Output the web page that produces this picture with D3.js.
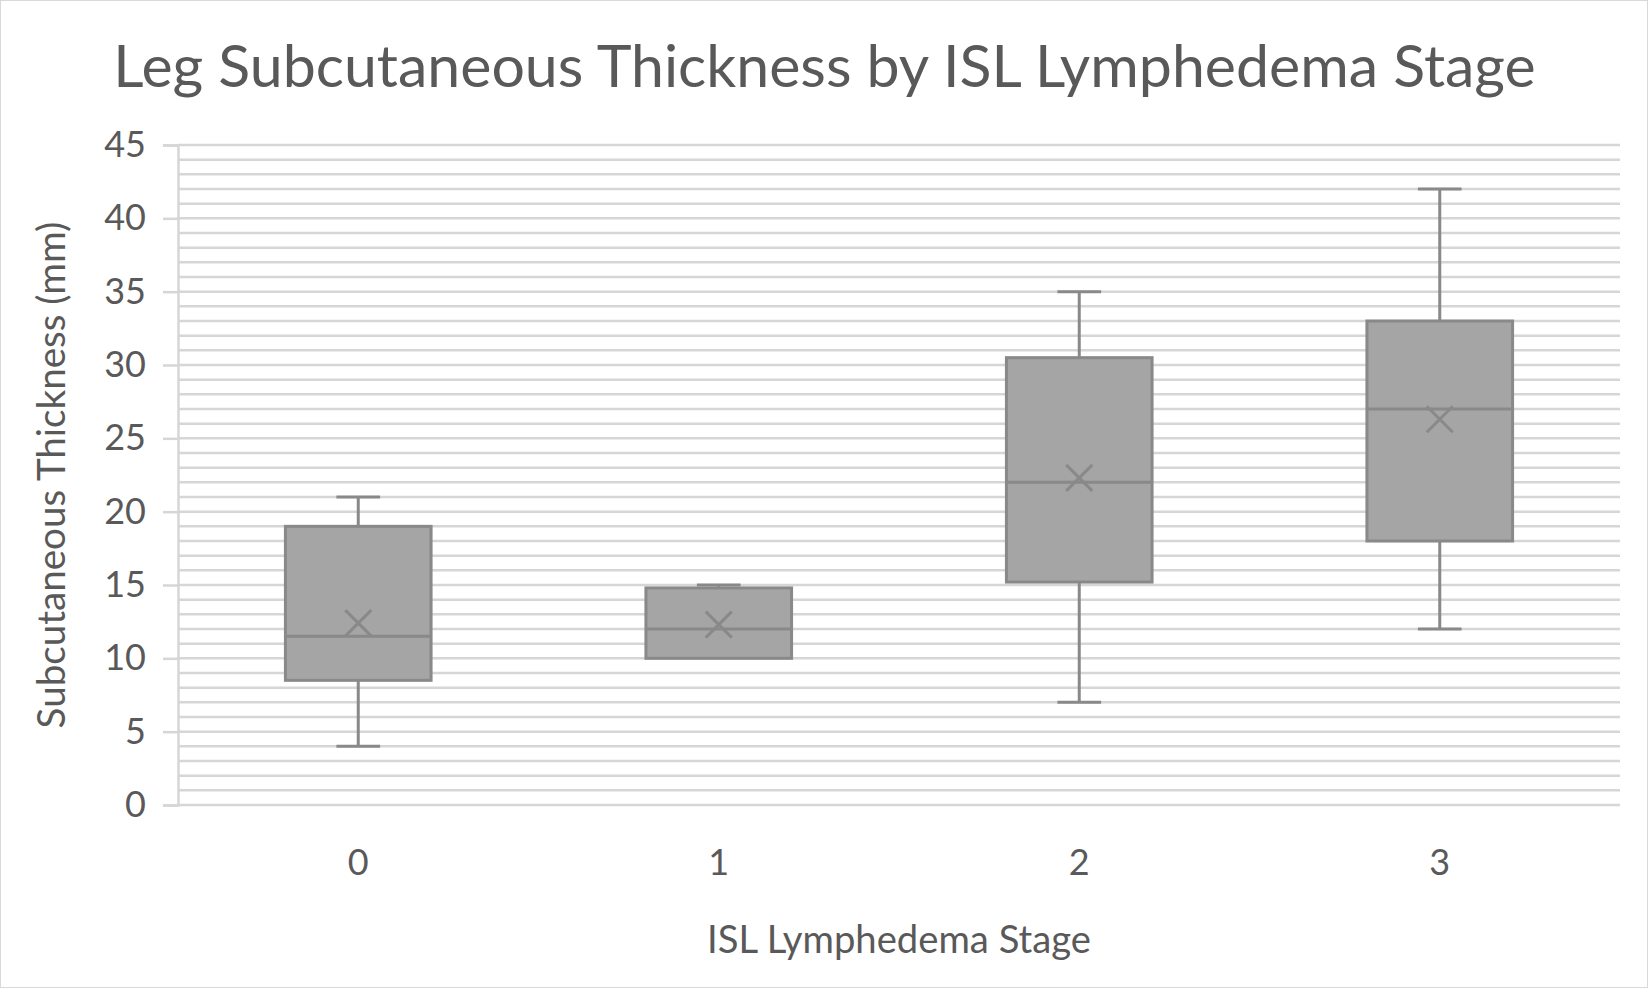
<!DOCTYPE html>
<html>
<head>
<meta charset="utf-8">
<script src="https://cdn.jsdelivr.net/npm/d3@7"></script>
<style>
  body { margin: 0; background: #fff; }
  text { font-family: Lato, "Open Sans", sans-serif; fill: #595959; }
</style>
</head>
<body>
<div id="chart"></div>
<script>
// box plot values
var stages = ["0", "1", "2", "3"];
var whiskerLow = [4, 10, 7, 12];
var q1 = [8.5, 10, 15.2, 18];
var median = [11.5, 12, 22, 27];
var q3 = [19, 14.8, 30.5, 33];
var whiskerHigh = [21, 15, 35, 42];
var means = [12.4, 12.3, 22.3, 26.3];
var yTicks = [0, 5, 10, 15, 20, 25, 30, 35, 40, 45];

var W = 1650, H = 990;
var margin = {top: 145, right: 30, bottom: 185, left: 178};

var boxes = stages.map(function (s, i) {
  return {stage: s, lo: whiskerLow[i], q1: q1[i], med: median[i], q3: q3[i], hi: whiskerHigh[i], mean: means[i]};
});

var svg = d3.select("#chart").append("svg")
  .attr("width", W).attr("height", H);

svg.append("rect")
  .attr("x", 0.5).attr("y", 0.5)
  .attr("width", W - 3).attr("height", H - 3)
  .attr("fill", "#fff").attr("stroke", "#d9d9d9");

var x = d3.scaleBand().domain(stages).range([margin.left, W - margin.right]).padding(0);
var y = d3.scaleLinear().domain([0, 45]).range([H - margin.bottom, margin.top]);

// minor + major gridlines every 1 mm
svg.append("g").selectAll("line")
  .data(d3.range(0, 46))
  .enter().append("line")
  .attr("x1", margin.left).attr("x2", W - margin.right)
  .attr("y1", d => y(d)).attr("y2", d => y(d))
  .attr("stroke", "#d6d6d6").attr("stroke-width", 2.5);

// y axis
var yAxisG = svg.append("g")
  .attr("transform", "translate(" + margin.left + ",0)")
  .call(d3.axisLeft(y).tickValues(yTicks).tickSize(15).tickPadding(17));
yAxisG.select(".domain").attr("stroke", "#d6d6d6").attr("stroke-width", 2.5);
yAxisG.selectAll(".tick line").attr("stroke", "#d6d6d6").attr("stroke-width", 2.5);
yAxisG.selectAll(".tick text")
  .style("font-size", "36px").style("font-family", "Lato").attr("fill", "#595959");

// x axis labels
var xAxisG = svg.append("g")
  .attr("transform", "translate(0," + y(0) + ")")
  .call(d3.axisBottom(x).tickSize(0).tickPadding(44));
xAxisG.select(".domain").remove();
xAxisG.selectAll(".tick text")
  .style("font-size", "36px").style("font-family", "Lato").attr("fill", "#595959");

var boxW = x.bandwidth() * 0.404;
var capW = boxW * 0.3;
var grey = "#898989";

var g = svg.append("g").selectAll("g")
  .data(boxes)
  .enter().append("g");

// whiskers
g.append("line")
  .attr("x1", d => x(d.stage) + x.bandwidth() / 2)
  .attr("x2", d => x(d.stage) + x.bandwidth() / 2)
  .attr("y1", d => y(d.hi)).attr("y2", d => y(d.lo))
  .attr("stroke", grey).attr("stroke-width", 3);
g.append("line")
  .attr("x1", d => x(d.stage) + x.bandwidth() / 2 - capW / 2)
  .attr("x2", d => x(d.stage) + x.bandwidth() / 2 + capW / 2)
  .attr("y1", d => y(d.hi)).attr("y2", d => y(d.hi))
  .attr("stroke", grey).attr("stroke-width", 3);
g.filter(d => d.lo < d.q1).append("line")
  .attr("x1", d => x(d.stage) + x.bandwidth() / 2 - capW / 2)
  .attr("x2", d => x(d.stage) + x.bandwidth() / 2 + capW / 2)
  .attr("y1", d => y(d.lo)).attr("y2", d => y(d.lo))
  .attr("stroke", grey).attr("stroke-width", 3);

// box
g.append("rect")
  .attr("x", d => x(d.stage) + x.bandwidth() / 2 - boxW / 2)
  .attr("width", boxW)
  .attr("y", d => y(d.q3))
  .attr("height", d => y(d.q1) - y(d.q3))
  .attr("fill", "#a5a5a5").attr("stroke", grey).attr("stroke-width", 3);

// median
g.append("line")
  .attr("x1", d => x(d.stage) + x.bandwidth() / 2 - boxW / 2)
  .attr("x2", d => x(d.stage) + x.bandwidth() / 2 + boxW / 2)
  .attr("y1", d => y(d.med)).attr("y2", d => y(d.med))
  .attr("stroke", grey).attr("stroke-width", 3);

// mean marker (x)
var m = 13;
g.append("path")
  .attr("d", function (d) {
    var cx = x(d.stage) + x.bandwidth() / 2, cy = y(d.mean);
    return "M" + (cx - m) + "," + (cy - m) + "L" + (cx + m) + "," + (cy + m) +
           "M" + (cx - m) + "," + (cy + m) + "L" + (cx + m) + "," + (cy - m);
  })
  .attr("stroke", grey).attr("stroke-width", 3).attr("fill", "none");

// fit a text to a target width
function fitText(sel, target) {
  sel.style("font-size", "100px");
  var w = sel.node().getComputedTextLength();
  sel.style("font-size", (100 * target / w) + "px");
}

var title = svg.append("text")
  .attr("x", (113 + 1536) / 2).attr("y", 87)
  .attr("text-anchor", "middle")
  .text("Leg Subcutaneous Thickness by ISL Lymphedema Stage");
fitText(title, 1423);

var xTitle = svg.append("text")
  .attr("x", (margin.left + W - margin.right) / 2).attr("y", 953)
  .attr("text-anchor", "middle")
  .text("ISL Lymphedema Stage");
fitText(xTitle, 384);

var yTitle = svg.append("text")
  .attr("transform", "translate(65," + (margin.top + H - margin.bottom) / 2 + ") rotate(-90)")
  .attr("text-anchor", "middle")
  .text("Subcutaneous Thickness (mm)");
fitText(yTitle, 507);
</script>
</body>
</html>
